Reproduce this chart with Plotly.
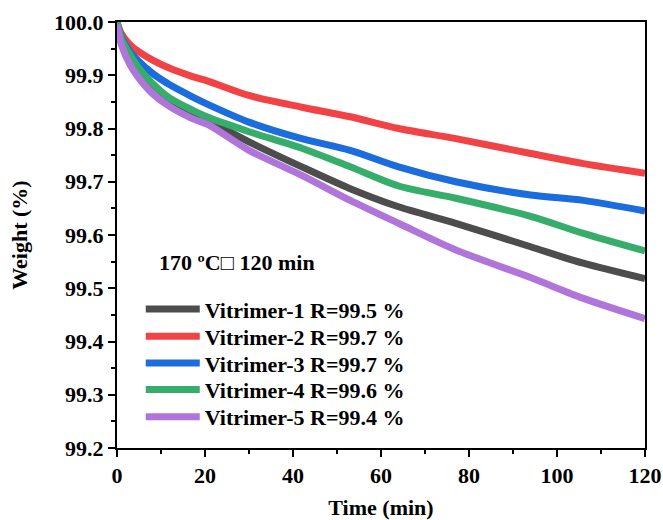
import plotly.graph_objects as go

time_min = [0, 1, 3, 5, 8, 12, 17, 21, 30, 42, 53, 64, 77, 94, 106, 120]
vit1 = [100.0, 99.968, 99.938, 99.912, 99.884, 99.855, 99.829, 99.814, 99.775, 99.728, 99.687, 99.653, 99.622, 99.578, 99.547, 99.518]
vit2 = [100.0, 99.978, 99.957, 99.944, 99.929, 99.913, 99.898, 99.888, 99.862, 99.840, 99.822, 99.800, 99.781, 99.753, 99.734, 99.716]
vit3 = [100.0, 99.972, 99.944, 99.926, 99.904, 99.882, 99.860, 99.844, 99.812, 99.781, 99.759, 99.728, 99.700, 99.675, 99.665, 99.645]
vit4 = [100.0, 99.968, 99.938, 99.913, 99.885, 99.857, 99.835, 99.820, 99.794, 99.763, 99.728, 99.692, 99.669, 99.635, 99.603, 99.570]
vit5 = [99.995, 99.957, 99.919, 99.894, 99.866, 99.841, 99.819, 99.806, 99.759, 99.712, 99.665, 99.622, 99.572, 99.520, 99.481, 99.443]

names = ["Vitrimer-1 R=99.5 %", "Vitrimer-2 R=99.7 %", "Vitrimer-3 R=99.7 %",
         "Vitrimer-4 R=99.6 %", "Vitrimer-5 R=99.4 %"]
colors = ["#4D4D4D", "#F14346", "#1B6CDD", "#37AD6B", "#B075DA"]
series = [vit1, vit2, vit3, vit4, vit5]

x_ticks = [0, 20, 40, 60, 80, 100, 120]
y_ticks = [99.2, 99.3, 99.4, 99.5, 99.6, 99.7, 99.8, 99.9, 100.0]

font_family = "Liberation Serif, Times New Roman, serif"
fs = 22

fig = go.Figure()
legend_ids = ["legend", "legend2", "legend3", "legend4", "legend5"]
row_y = [0.326, 0.262, 0.199, 0.137, 0.073]
for name, color, ys, lid in zip(names, colors, series, legend_ids):
    fig.add_trace(go.Scatter(x=time_min, y=ys, mode="lines", name=name, legend=lid,
                             line=dict(color=color, width=7, shape="spline", smoothing=0.8)))

layout_legends = {}
for lid, ry in zip(legend_ids, row_y):
    layout_legends[lid] = dict(x=0.045, y=ry, xanchor="left", yanchor="middle",
                               bgcolor="rgba(0,0,0,0)",
                               font=dict(size=fs, family=font_family, weight="bold"),
                               itemwidth=54, borderwidth=0)

fig.update_layout(
    width=663, height=520,
    margin=dict(l=117, r=18, t=22, b=72),
    plot_bgcolor="white", paper_bgcolor="white",
    font=dict(family=font_family, size=fs, color="black"),
    showlegend=True,
    annotations=[dict(x=9.1, y=99.549, xref="x", yref="y", xanchor="left", yanchor="middle",
                      text="<b>170 ºC□ 120 min</b>", showarrow=False,
                      font=dict(size=fs, family=font_family))],
    **layout_legends,
)

fig.update_xaxes(range=[0, 120], tickvals=x_ticks, ticktext=[f"<b>{v}</b>" for v in x_ticks],
                 ticks="outside", ticklen=7, tickwidth=2, tickcolor="black",
                 showline=True, linewidth=2, linecolor="black", mirror=True,
                 showgrid=False, zeroline=False, automargin=False,
                 minor=dict(dtick=10, tick0=0, ticks="outside", ticklen=4, tickwidth=2, tickcolor="black"),
                 title=dict(text="<b>Time (min)</b>", font=dict(size=fs, family=font_family), standoff=17))
fig.update_yaxes(range=[99.2, 100.0], tickvals=y_ticks, ticktext=[f"<b>{v:.1f}</b>" for v in y_ticks],
                 ticks="outside", ticklen=7, tickwidth=2, tickcolor="black",
                 showline=True, linewidth=2, linecolor="black", mirror=True,
                 showgrid=False, zeroline=False, automargin=False,
                 minor=dict(dtick=0.05, tick0=99.2, ticks="outside", ticklen=4, tickwidth=2, tickcolor="black"),
                 title=dict(text="<b>Weight (%)</b>", font=dict(size=fs, family=font_family), standoff=20))

fig.write_html("out.html")
